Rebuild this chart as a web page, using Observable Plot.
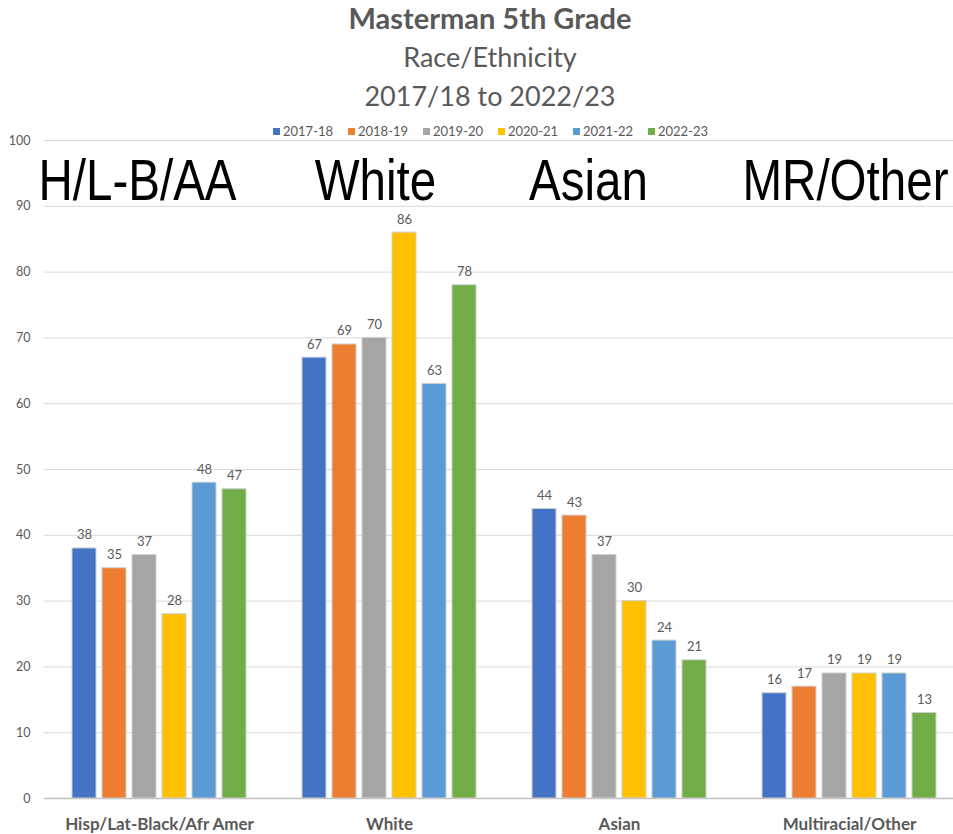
<!DOCTYPE html>
<html>
<head>
<meta charset="utf-8">
<script src="https://cdn.jsdelivr.net/npm/d3@7"></script>
<script src="https://cdn.jsdelivr.net/npm/@observablehq/plot@0.6"></script>
<style>
  html, body { margin: 0; padding: 0; background: #fff; overflow: hidden; }
  #wrap { position: relative; width: 953px; height: 834px; font-family: Lato, "Open Sans", sans-serif; }
  #title { position: absolute; left: 0; width: 980px; top: -2px; text-align: center; color: #595959; }
  #title div { font-size: 27px; line-height: 39px; }
  #title .t1 { font-weight: bold; font-size: 29px; }
  #legend { position: absolute; top: 123px; left: 273px; display: flex; gap: 0; font-size: 13px; color: #595959; line-height: 16px; }
  #legend span.item { display: inline-flex; align-items: center; width: 75px; }
  #legend span.sw { display: inline-block; width: 7px; height: 7px; margin-right: 3px; }
  #chart { position: absolute; left: 0; top: 120px; }
  #chart svg { overflow: visible; }
</style>
</head>
<body>
<div id="wrap">
  <div id="title">
    <div class="t1">Masterman 5th Grade</div>
    <div>Race/Ethnicity</div>
    <div>2017/18 to 2022/23</div>
  </div>
  <div id="legend"></div>
  <div id="chart"></div>
</div>
<script>
const categories = ["Hisp/Lat-Black/Afr Amer", "White", "Asian", "Multiracial/Other"];
const shortLabels = ["H/L-B/AA", "White", "Asian", "MR/Other"];
const years = ["2017-18", "2018-19", "2019-20", "2020-21", "2021-22", "2022-23"];
const colors = ["#4472C4", "#ED7D31", "#A5A5A5", "#FFC000", "#5B9BD5", "#70AD47"];
const v2017 = [38, 67, 44, 16];
const v2018 = [35, 69, 43, 17];
const v2019 = [37, 70, 37, 19];
const v2020 = [28, 86, 30, 19];
const v2021 = [48, 63, 24, 19];
const v2022 = [47, 78, 21, 13];
const yTicks = [0, 10, 20, 30, 40, 50, 60, 70, 80, 90, 100];

const series = [v2017, v2018, v2019, v2020, v2021, v2022];
const data = [];
years.forEach((yr, i) => categories.forEach((c, j) => data.push({category: c, year: yr, value: series[i][j]})));

const labelOffsets = [-22, -14, -31, -4];
const font = "Lato, 'Open Sans', sans-serif";

const marks = [
  Plot.ruleY(yTicks.filter(d => d > 0), {stroke: "#d9d9d9", strokeWidth: 1}),
  Plot.ruleY([0], {stroke: "#bfbfbf", strokeWidth: 1.5}),
  Plot.barY(data, {fx: "category", x: "year", y: "value", fill: "year", stroke: "#d0d0d0", strokeWidth: 1}),
  Plot.text(data, {fx: "category", x: "year", y: "value", text: d => String(d.value), lineAnchor: "bottom", dy: -9, fill: "#595959", fontSize: 13, fontFamily: font})
];
categories.forEach((c, i) => {
  marks.push(Plot.text([shortLabels[i]], {
    fx: [c], frameAnchor: "top", text: d => d, dx: labelOffsets[i], dy: 18,
    lineAnchor: "top", fontSize: 58, fill: "#000",
    fontFamily: "'Liberation Sans', Arial, sans-serif"
  }));
});

const chart = Plot.plot({
  width: 953,
  height: 714,
  marginTop: 20,
  marginBottom: 36,
  marginLeft: 42,
  marginRight: -12,
  style: {fontFamily: font, color: "#595959", background: "transparent"},
  fx: {domain: categories, padding: 0, label: null, axis: null},
  x: {domain: years, paddingInner: 0.216, paddingOuter: 0.87, axis: null},
  y: {domain: [0, 100], label: null, axis: null},
  color: {domain: years, range: colors},
  marks: [
    ...marks,
    Plot.axisY({ticks: yTicks, tickSize: 0, tickPadding: 14, label: null, fontSize: 12.5, fill: "#595959", anchor: "left", facetAnchor: "left", tickFormat: d => String(d)}),
    Plot.axisFx({anchor: "bottom", tickSize: 0, tickPadding: 19, label: null, fontSize: 17, fontWeight: "bold", fill: "#595959"})
  ]
});
document.getElementById("chart").appendChild(chart);

// condense the big overlay labels horizontally (Arial Narrow look)
d3.select(chart).selectAll("g[font-size='58'] text").each(function() {
  const t = this.getAttribute("transform") || "";
  this.setAttribute("transform", t + " scale(0.82,1)");
});

const leg = document.getElementById("legend");
years.forEach((y, i) => {
  const item = document.createElement("span");
  item.className = "item";
  const sw = document.createElement("span");
  sw.className = "sw";
  sw.style.background = colors[i];
  item.appendChild(sw);
  item.appendChild(document.createTextNode(y));
  leg.appendChild(item);
});
</script>
</body>
</html>
